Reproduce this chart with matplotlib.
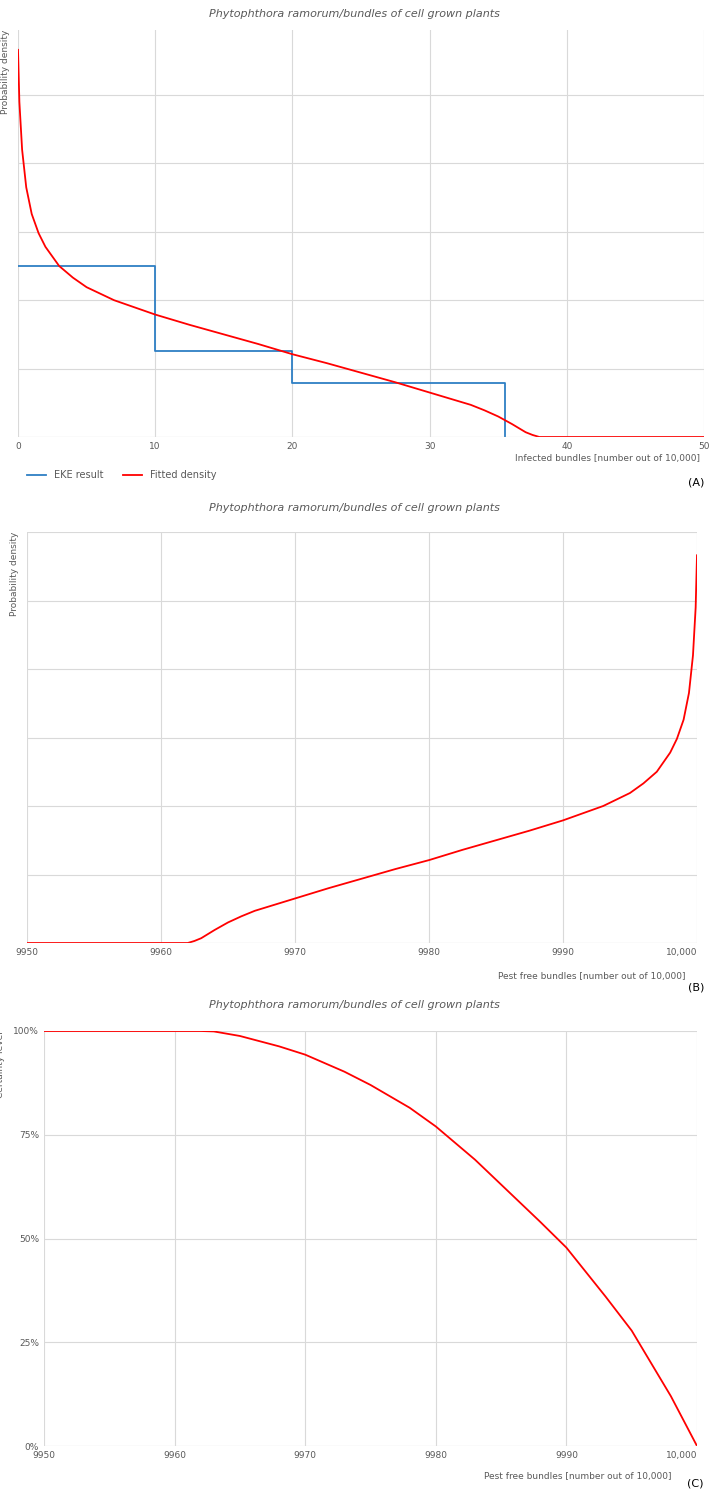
import matplotlib
matplotlib.use("Agg")
import matplotlib.pyplot as plt
import numpy as np

title = "Phytophthora ramorum/bundles of cell grown plants"
# fitted density (infected bundles, arbitrary density units)
inf_x = [0, 0.1, 0.3, 0.6, 1, 1.5, 2, 3, 4, 5, 7, 10, 12.5, 15, 17.5, 20, 22.5, 25, 27.5, 30, 32, 33, 34, 35, 36, 36.5, 37, 37.5, 38, 50]
inf_d = [5.66, 4.9, 4.2, 3.65, 3.26, 2.98, 2.78, 2.5, 2.33, 2.19, 2.0, 1.79, 1.64, 1.5, 1.36, 1.21, 1.08, 0.94, 0.8, 0.65, 0.53, 0.47, 0.39, 0.3, 0.19, 0.13, 0.07, 0.03, 0.0, 0.0]
eke_edges = [0, 10, 20, 35.5]
eke_vals = [2.5, 1.25, 0.79]
# certainty level (panel C)
pf_x = [9950, 9962, 9963, 9965, 9968, 9970, 9973, 9975, 9978, 9980, 9983, 9985, 9988, 9990, 9993, 9995, 9998, 10000]
pf_c = [100, 100, 99.9, 98.8, 96.3, 94.3, 90.2, 87, 81.5, 77, 69, 63, 54, 47.8, 36, 27.8, 12, 0]

W, H = 709, 1493
fig = plt.figure(figsize=(W/100, H/100), dpi=100)
def ax_px(l, r, t, b):
    return fig.add_axes([l/W, 1-b/H, (r-l)/W, (b-t)/H])

gridc = "#d9d9d9"
def style(ax):
    for s in ax.spines.values(): s.set_visible(False)
    ax.grid(True, color=gridc, lw=0.8)
    ax.set_axisbelow(True)
    ax.tick_params(length=0, labelsize=6.5, colors="#595959")
    ax.axhline(ax.get_ylim()[0], color=gridc, lw=0.8)

def ylab(ax, text):
    ax.set_ylabel(text, fontsize=6.5, color="#595959")
    ax.yaxis.set_label_coords(-0.012, 1.0); ax.yaxis.label.set_va("bottom"); ax.yaxis.label.set_ha("right")

xt_labels = ["9950", "9960", "9970", "9980", "9990", "10,000"]

# Panel A
a = ax_px(18, 704, 30, 437)
a.set_xlim(0, 50); a.set_ylim(0, 5.95)
a.set_xticks([0, 10, 20, 30, 40, 50]); a.set_yticks(np.arange(0, 6, 1)); a.set_yticklabels([])
a.step(eke_edges + [eke_edges[-1]], eke_vals + [eke_vals[-1], 0], where="post", color="#2e7fc4", lw=1.3, label="EKE result")
a.plot(inf_x, inf_d, color="#ff0000", lw=1.3, label="Fitted density")
style(a)
ylab(a, "Probability density")
a.legend(loc="upper left", bbox_to_anchor=(0.0, -0.06), ncol=2, frameon=False, fontsize=7, labelcolor="#595959")
fig.text(0.5, 1-14/H, title, ha="center", va="center", fontsize=8, style="italic", color="#595959")
fig.text(700/W, 1-458/H, "Infected bundles [number out of 10,000]", ha="right", va="center", fontsize=6.5, color="#595959")
fig.text(704/W, 1-482/H, "(A)", ha="right", va="center", fontsize=8)

# Panel B
b = ax_px(27, 697, 532, 943)
b.set_xlim(9950, 10000); b.set_ylim(0, 6)
b.set_xticks(np.arange(9950, 10001, 10)); b.set_xticklabels(xt_labels)
b.get_xticklabels()[-1].set_ha("right")
b.set_yticks(np.arange(0, 7, 1)); b.set_yticklabels([])
b.plot([10000 - v for v in inf_x], inf_d, color="#ff0000", lw=1.3)
style(b)
ylab(b, "Probability density")
fig.text(0.5, 1-508/H, title, ha="center", va="center", fontsize=8, style="italic", color="#595959")
fig.text(685/W, 1-976/H, "Pest free bundles [number out of 10,000]", ha="right", va="center", fontsize=6.5, color="#595959")
fig.text(704/W, 1-987/H, "(B)", ha="right", va="center", fontsize=8)

# Panel C
c = ax_px(44, 697, 1031, 1446)
c.set_xlim(9950, 10000); c.set_ylim(0, 100)
c.set_xticks(np.arange(9950, 10001, 10)); c.set_xticklabels(xt_labels)
c.get_xticklabels()[-1].set_ha("right")
c.set_yticks([0, 25, 50, 75, 100]); c.set_yticklabels(["0%", "25%", "50%", "75%", "100%"])
c.plot(pf_x, pf_c, color="#ff0000", lw=1.3)
style(c)
c.set_ylabel("Certainty level", fontsize=6.5, color="#595959")
c.yaxis.set_label_coords(-0.06, 1.0); c.yaxis.label.set_va("bottom"); c.yaxis.label.set_ha("right")
fig.text(0.5, 1-1005/H, title, ha="center", va="center", fontsize=8, style="italic", color="#595959")
fig.text(672/W, 1-1476/H, "Pest free bundles [number out of 10,000]", ha="right", va="center", fontsize=6.5, color="#595959")
fig.text(704/W, 1-1484/H, "(C)", ha="right", va="center", fontsize=8)

fig.savefig("out.png", dpi=100)
